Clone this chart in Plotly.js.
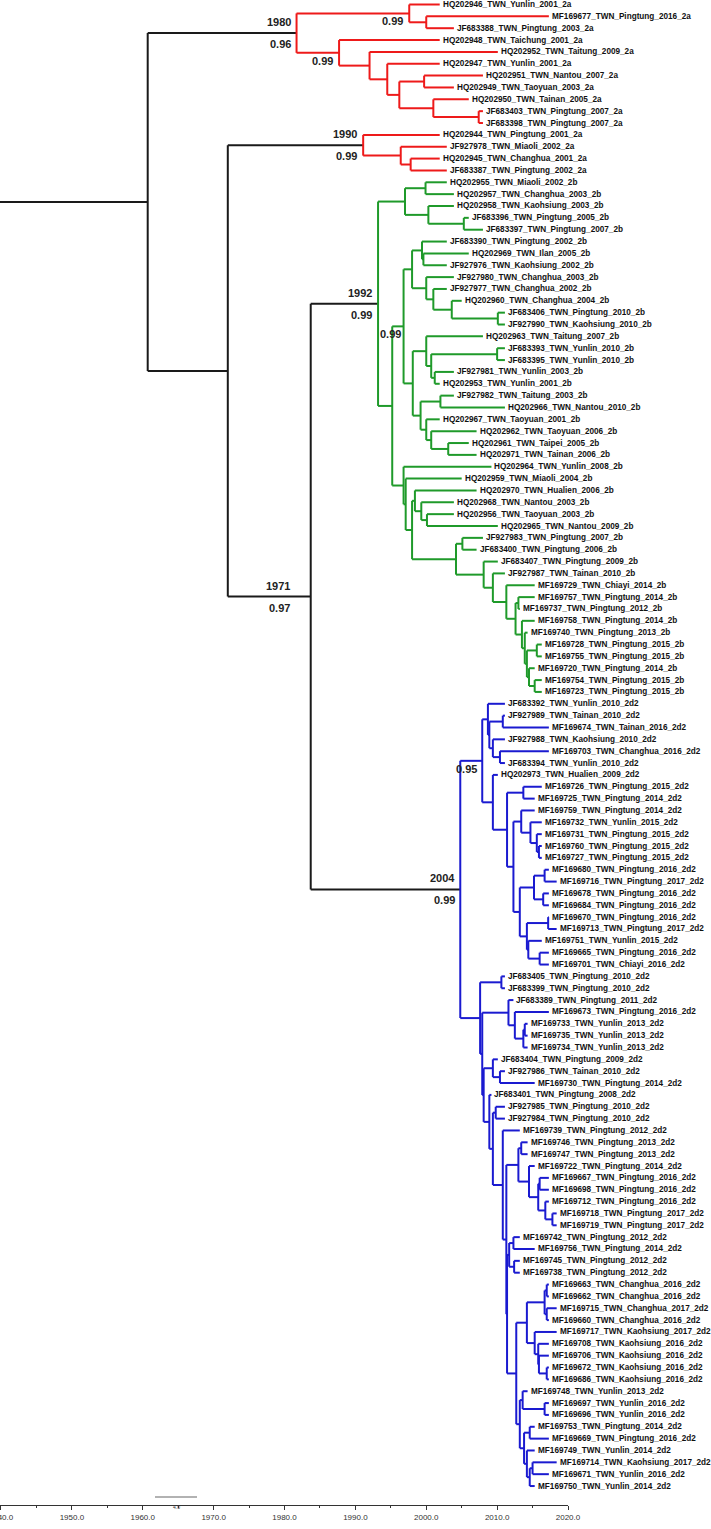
<!DOCTYPE html>
<html><head><meta charset="utf-8">
<script src="https://cdn.plot.ly/plotly-3.0.1.min.js"></script>
<style>html,body{margin:0;padding:0;background:#fff}#chart{width:711px;height:1529px}</style>
</head><body><div id="chart"></div>
<script>
const leafNames = [
"HQ202946_TWN_Yunlin_2001_2a","MF169677_TWN_Pingtung_2016_2a","JF683388_TWN_Pingtung_2003_2a","HQ202948_TWN_Taichung_2001_2a",
"HQ202952_TWN_Taitung_2009_2a","HQ202947_TWN_Yunlin_2001_2a","HQ202951_TWN_Nantou_2007_2a","HQ202949_TWN_Taoyuan_2003_2a",
"HQ202950_TWN_Tainan_2005_2a","JF683403_TWN_Pingtung_2007_2a","JF683398_TWN_Pingtung_2007_2a","HQ202944_TWN_Pingtung_2001_2a",
"JF927978_TWN_Miaoli_2002_2a","HQ202945_TWN_Changhua_2001_2a","JF683387_TWN_Pingtung_2002_2a","HQ202955_TWN_Miaoli_2002_2b",
"HQ202957_TWN_Changhua_2003_2b","HQ202958_TWN_Kaohsiung_2003_2b","JF683396_TWN_Pingtung_2005_2b","JF683397_TWN_Pingtung_2007_2b",
"JF683390_TWN_Pingtung_2002_2b","HQ202969_TWN_Ilan_2005_2b","JF927976_TWN_Kaohsiung_2002_2b","JF927980_TWN_Changhua_2003_2b",
"JF927977_TWN_Changhua_2002_2b","HQ202960_TWN_Changhua_2004_2b","JF683406_TWN_Pingtung_2010_2b","JF927990_TWN_Kaohsiung_2010_2b",
"HQ202963_TWN_Taitung_2007_2b","JF683393_TWN_Yunlin_2010_2b","JF683395_TWN_Yunlin_2010_2b","JF927981_TWN_Yunlin_2003_2b",
"HQ202953_TWN_Yunlin_2001_2b","JF927982_TWN_Taitung_2003_2b","HQ202966_TWN_Nantou_2010_2b","HQ202967_TWN_Taoyuan_2001_2b",
"HQ202962_TWN_Taoyuan_2006_2b","HQ202961_TWN_Taipei_2005_2b","HQ202971_TWN_Tainan_2006_2b","HQ202964_TWN_Yunlin_2008_2b",
"HQ202959_TWN_Miaoli_2004_2b","HQ202970_TWN_Hualien_2006_2b","HQ202968_TWN_Nantou_2003_2b","HQ202956_TWN_Taoyuan_2003_2b",
"HQ202965_TWN_Nantou_2009_2b","JF927983_TWN_Pingtung_2007_2b","JF683400_TWN_Pingtung_2006_2b","JF683407_TWN_Pingtung_2009_2b",
"JF927987_TWN_Tainan_2010_2b","MF169729_TWN_Chiayi_2014_2b","MF169757_TWN_Pingtung_2014_2b","MF169737_TWN_Pingtung_2012_2b",
"MF169758_TWN_Pingtung_2014_2b","MF169740_TWN_Pingtung_2013_2b","MF169728_TWN_Pingtung_2015_2b","MF169755_TWN_Pingtung_2015_2b",
"MF169720_TWN_Pingtung_2014_2b","MF169754_TWN_Pingtung_2015_2b","MF169723_TWN_Pingtung_2015_2b","JF683392_TWN_Yunlin_2010_2d2",
"JF927989_TWN_Tainan_2010_2d2","MF169674_TWN_Tainan_2016_2d2","JF927988_TWN_Kaohsiung_2010_2d2","MF169703_TWN_Changhua_2016_2d2",
"JF683394_TWN_Yunlin_2010_2d2","HQ202973_TWN_Hualien_2009_2d2","MF169726_TWN_Pingtung_2015_2d2","MF169725_TWN_Pingtung_2014_2d2",
"MF169759_TWN_Pingtung_2014_2d2","MF169732_TWN_Yunlin_2015_2d2","MF169731_TWN_Pingtung_2015_2d2","MF169760_TWN_Pingtung_2015_2d2",
"MF169727_TWN_Pingtung_2015_2d2","MF169680_TWN_Pingtung_2016_2d2","MF169716_TWN_Pingtung_2017_2d2","MF169678_TWN_Pingtung_2016_2d2",
"MF169684_TWN_Pingtung_2016_2d2","MF169670_TWN_Pingtung_2016_2d2","MF169713_TWN_Pingtung_2017_2d2","MF169751_TWN_Yunlin_2015_2d2",
"MF169665_TWN_Pingtung_2016_2d2","MF169701_TWN_Chiayi_2016_2d2","JF683405_TWN_Pingtung_2010_2d2","JF683399_TWN_Pingtung_2010_2d2",
"JF683389_TWN_Pingtung_2011_2d2","MF169673_TWN_Pingtung_2016_2d2","MF169733_TWN_Yunlin_2013_2d2","MF169735_TWN_Yunlin_2013_2d2",
"MF169734_TWN_Yunlin_2013_2d2","JF683404_TWN_Pingtung_2009_2d2","JF927986_TWN_Tainan_2010_2d2","MF169730_TWN_Pingtung_2014_2d2",
"JF683401_TWN_Pingtung_2008_2d2","JF927985_TWN_Pingtung_2010_2d2","JF927984_TWN_Pingtung_2010_2d2","MF169739_TWN_Pingtung_2012_2d2",
"MF169746_TWN_Pingtung_2013_2d2","MF169747_TWN_Pingtung_2013_2d2","MF169722_TWN_Pingtung_2014_2d2","MF169667_TWN_Pingtung_2016_2d2",
"MF169698_TWN_Pingtung_2016_2d2","MF169712_TWN_Pingtung_2016_2d2","MF169718_TWN_Pingtung_2017_2d2","MF169719_TWN_Pingtung_2017_2d2",
"MF169742_TWN_Pingtung_2012_2d2","MF169756_TWN_Pingtung_2014_2d2","MF169745_TWN_Pingtung_2012_2d2","MF169738_TWN_Pingtung_2012_2d2",
"MF169663_TWN_Changhua_2016_2d2","MF169662_TWN_Changhua_2016_2d2","MF169715_TWN_Changhua_2017_2d2","MF169660_TWN_Changhua_2016_2d2",
"MF169717_TWN_Kaohsiung_2017_2d2","MF169708_TWN_Kaohsiung_2016_2d2","MF169706_TWN_Kaohsiung_2016_2d2","MF169672_TWN_Kaohsiung_2016_2d2",
"MF169686_TWN_Kaohsiung_2016_2d2","MF169748_TWN_Yunlin_2013_2d2","MF169697_TWN_Yunlin_2016_2d2","MF169696_TWN_Yunlin_2016_2d2",
"MF169753_TWN_Pingtung_2014_2d2","MF169669_TWN_Pingtung_2016_2d2","MF169749_TWN_Yunlin_2014_2d2","MF169714_TWN_Kaohsiung_2017_2d2",
"MF169671_TWN_Yunlin_2016_2d2","MF169750_TWN_Yunlin_2014_2d2"];

// tip positions (axis years)
const leafX = [
2001.9,2017.3,2003.9,2001.9,2010.1,2001.9,2008.0,2003.9,2006.0,2008.0,2008.0,2001.9,2002.9,2001.9,2002.9,2002.9,
2003.9,2003.9,2006.0,2008.0,2002.9,2006.0,2002.9,2003.9,2002.9,2005.0,2011.1,2011.1,2008.0,2011.1,2011.1,2003.9,
2001.9,2003.9,2011.1,2001.9,2007.1,2006.0,2007.1,2009.2,2005.0,2007.1,2003.9,2003.9,2010.1,2008.0,2007.1,2010.1,
2011.1,2015.3,2015.3,2013.2,2015.3,2014.3,2016.3,2016.3,2015.3,2016.3,2016.3,2011.1,2011.1,2017.3,2011.1,2017.3,
2011.1,2010.1,2016.3,2015.3,2015.3,2016.3,2016.3,2016.3,2016.3,2017.3,2018.4,2017.3,2017.3,2017.3,2018.4,2016.3,
2017.3,2017.3,2011.1,2011.1,2012.3,2017.3,2014.3,2014.3,2014.3,2010.1,2011.1,2015.3,2009.2,2011.1,2011.1,2013.2,
2014.3,2014.3,2015.3,2017.3,2017.3,2017.3,2018.4,2018.4,2013.2,2015.3,2013.2,2013.2,2017.3,2017.3,2018.4,2017.3,
2018.4,2017.3,2017.3,2017.3,2017.3,2014.3,2017.3,2017.3,2015.3,2017.3,2015.3,2018.4,2017.3,2015.3];

// internal nodes: id, children (leaf index or node id), position (axis year)
const nodeIds = [
"a1","a2","a3","a4","a5","a6","a7","a8","a9","c1980","b1","b2","c1990",
"g1","g2","g3","g4","g5","g6","g7","g8","g9","g10","g11","g12","g13","g14","g15","g16","g17","g18","g19","g20","g21","g22",
"g23","g24","g25","g26","g27","g28","g29","g30","g31","g32","g33","g34","g35","g36","g37","g38","g39","g40","g41","g42","c1992",
"d1","d2","d3","d4","d5","d6","d7","d8","d9","d10","d11","d12","d13","d14","d15","d16","d17","d18","d19","d20","d21","d22",
"d23","d24","d25","d26","d27","d28","d29","d30","d31","d32","d33","d34","d35","d36","d37","d38","d39","d40","d41","d42","d43",
"d44","d45","d46","d47","d48","d49","d50","d51","d52","d53","d54","d55","d56","d57","d58","d59","d60","d61","d62","d63","d64","d65","c2004",
"c1971","nG","root"];
const nodeKids = [
[1,2],[0,"a1"],[9,10],[8,"a3"],[6,7],["a5","a4"],[5,"a6"],[4,"a7"],[3,"a8"],["a2","a9"],[13,14],[12,"b1"],[11,"b2"],
[15,16],[18,19],[17,"g2"],["g1","g3"],[21,22],[20,"g5"],[26,27],[25,"g7"],[24,"g8"],[23,"g9"],["g6","g10"],[29,30],[31,32],["g12","g13"],[28,"g14"],
[33,34],[37,38],[36,"g17"],[35,"g18"],["g16","g19"],["g15","g20"],["g11","g21"],
[43,44],[42,"g23"],[41,"g24"],[45,46],[50,51],[54,55],[57,58],[56,"g29"],["g28","g30"],[53,"g31"],[52,"g32"],["g27","g33"],[49,"g34"],[48,"g35"],[47,"g36"],
["g26","g37"],["g25","g38"],[40,"g39"],[39,"g40"],["g22","g41"],["g4","g42"],
[63,64],[62,"d1"],[60,61],["d3","d2"],[59,"d4"],[66,67],[71,72],[70,"d7"],[69,"d8"],[68,"d9"],[73,74],[75,76],["d11","d12"],[77,78],[80,81],[79,"d15"],
["d14","d16"],["d13","d17"],["d10","d18"],["d6","d19"],[65,"d20"],["d5","d21"],
[82,83],[86,87],["d24",88],[85,"d25"],[84,"d26"],[90,91],[89,"d28"],[93,94],[96,97],[102,103],[101,"d32"],[99,100],["d34","d33"],[98,"d35"],["d31","d36"],
[104,105],[106,107],["d38","d39"],[108,109],[110,111],["d41","d42"],[115,116],[114,"d44"],[113,"d45"],[112,"d46"],["d43","d47"],[118,119],[117,"d49"],
[120,121],[123,124],["d52",125],[122,"d53"],["d51","d54"],["d50","d55"],["d48","d56"],["d40","d57"],["d37","d58"],[95,"d59"],["d30","d60"],[92,"d61"],
["d29","d62"],["d27","d63"],["d23","d64"],["d22","d65"],
["c1992","c2004"],["c1990","c1971"],["c1980","nG"]];
const nodeX = [
2000.0,1997.6,2007.4,2001.0,1999.7,1996.2,1994.5,1992.0,1987.7,1981.7,1997.8,1996.4,1991.1,
1999.9,2005.3,2000.3,1997.0,1999.6,1999.4,2010.1,2003.6,2001.0,2000.0,1998.0,2010.0,2001.2,2000.7,2000.0,2002.0,2003.1,2000.7,2000.0,1999.2,1998.1,1996.8,
2000.1,1999.3,1998.4,2005.1,2013.0,2015.6,2015.3,2014.5,2014.2,2013.9,2013.5,2012.6,2011.3,2009.4,2008.1,2004.2,1998.0,1997.1,1996.8,1995.2,1993.2,
2010.4,2009.4,2010.8,2008.9,2008.7,2013.7,2015.9,2015.6,2014.7,2013.4,2016.7,2016.5,2015.2,2017.2,2016.0,2014.4,2014.2,2013.2,2012.3,2011.4,2009.4,2007.9,
2010.6,2013.9,2013.7,2012.5,2011.6,2010.4,2009.4,2009.8,2013.4,2017.8,2016.8,2016.0,2015.8,2014.5,2013.0,2012.3,2012.4,2011.7,2017.0,2017.0,2016.7,
2017.0,2015.9,2015.8,2015.3,2014.2,2016.7,2013.6,2014.6,2015.0,2014.6,2014.2,2013.8,2013.2,2012.7,2011.4,2011.3,2010.8,2009.4,2008.9,2008.1,2007.9,2007.6,2004.8,
1983.7,1972.0,1960.7];

const cladeRoots = ["c1980","c1990","c1992","c2004"];
const cladeColors = ["#ee1a1a","#ee1a1a","#1f9a2a","#1a1ad0"];
const labelNodes = ["c1980","c1990","c1992","c1971","c2004","a2","a9","g22","d22"];
const labelTop = ["1980","1990","1992","1971","2004","","","",""];
const labelBottom = ["0.96","0.99","0.99","0.97","0.99","0.99","0.99","0.99","0.95"];
const labelGap = [-4,-4,-4,-19,-3,-4,-4,-1,-3];

const AX0 = 1939.86, AX1 = 2020.0;
const idx = {}; nodeIds.forEach((id,i)=>idx[id]=i);
const memoY = {};
function yOf(k){
  if (typeof k === "number") return k;
  if (memoY[k] !== undefined) return memoY[k];
  const ys = nodeKids[idx[k]].map(yOf);
  const v = (ys[0] + ys[ys.length-1]) / 2;
  memoY[k] = v; return v;
}
function xOf(k){ return typeof k === "number" ? leafX[k] : nodeX[idx[k]]; }
const segs = {};
function add(c, xs, ys){
  if (!segs[c]) segs[c] = {x:[], y:[]};
  segs[c].x.push(xs[0], xs[1], null); segs[c].y.push(ys[0], ys[1], null);
}
function draw(id, color){
  const ci = cladeRoots.indexOf(id);
  const c = ci >= 0 ? cladeColors[ci] : color;
  const x = nodeX[idx[id]];
  const kids = nodeKids[idx[id]];
  const ys = kids.map(yOf);
  add(c, [x,x], [Math.min(...ys), Math.max(...ys)]);
  kids.forEach(k => { add(c, [x, xOf(k)], [yOf(k), yOf(k)]); if (typeof k === "string") draw(k, c); });
}
const black = "#1a1a1a";
add(black, [AX0, xOf("root")], [yOf("root"), yOf("root")]);
draw("root", black);

const traces = Object.keys(segs).map(c => ({
  type:"scatter", mode:"lines", x:segs[c].x, y:segs[c].y,
  line:{color:c, width:2}, hoverinfo:"skip", showlegend:false, cliponaxis:false
}));

const FONT = "Liberation Sans, Arial, sans-serif";
const annotations = [];
leafNames.forEach((n,i) => annotations.push({
  x: leafX[i], y: i, xref:"x", yref:"y", text:n, showarrow:false,
  xanchor:"left", yanchor:"middle", xshift:1,
  font:{family:FONT, size:8.2, color:"#111", weight:700}
}));
labelNodes.forEach((id,j) => {
  const big = labelTop[j] !== "";
  if (big) annotations.push({x:xOf(id), y:yOf(id), text:labelTop[j], showarrow:false,
    xanchor:"right", yanchor:"middle", xshift:labelGap[j], yshift:11,
    font:{family:FONT, size:11, color:"#222", weight:700}});
  annotations.push({x:xOf(id), y:yOf(id), text:labelBottom[j], showarrow:false,
    xanchor:"right", yanchor:"middle", xshift:labelGap[j], yshift: big ? -11 : -8,
    font:{family:FONT, size:11, color:"#222", weight:700}});
});
annotations.push({xref:"paper", yref:"paper", x:176/568, y:-2/1505, text:"4.0", showarrow:false,
  xanchor:"center", yanchor:"middle", font:{family:FONT, size:5, color:"#333"}});

const layout = {
  width:711, height:1529, margin:{l:0, r:143, t:0, b:24},
  paper_bgcolor:"#fff", plot_bgcolor:"#fff", showlegend:false,
  xaxis:{range:[AX0, AX1], showgrid:false, zeroline:false, showline:true, linecolor:"#333", linewidth:1,
    ticks:"outside", ticklen:4, tickcolor:"#333", tick0:1940, dtick:10, tickformat:".1f",
    ticklabeloverflow:"allow",
    tickfont:{family:FONT, size:8, color:"#333"},
    minor:{dtick:5, ticks:"outside", ticklen:2, tickcolor:"#333"}},
  yaxis:{range:[126.6, -0.38], visible:false, showgrid:false, zeroline:false},
  annotations: annotations,
  shapes:[{type:"line", xref:"paper", yref:"paper", x0:155/568, x1:197/568, y0:8/1505, y1:8/1505,
    line:{color:"#999", width:1.5}}]
};
Plotly.newPlot("chart", traces, layout, {staticPlot:true, displayModeBar:false});
</script></body></html>
